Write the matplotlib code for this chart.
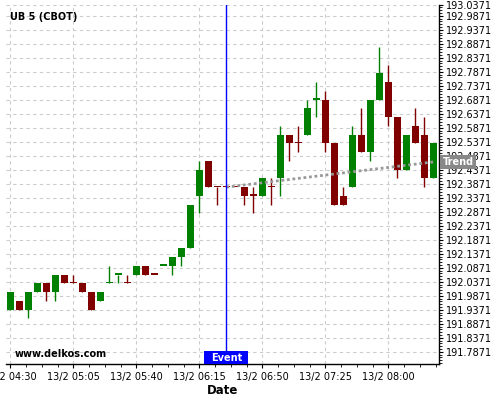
import matplotlib
matplotlib.use("Agg")
import matplotlib.pyplot as plt
import matplotlib.dates as mdates
from matplotlib.patches import Rectangle
from matplotlib.transforms import blended_transform_factory
import pandas as pd

# 5 minute candles, UB 5 (CBOT)
start = "2024-02-13 04:30"
opens = [191.9375, 191.96875, 191.9375, 192.0, 192.03125, 192.0, 192.0625, 192.03125,
         192.03125, 192.0, 191.96875, 192.03125, 192.0625, 192.03125, 192.0625, 192.09375,
         192.0625, 192.09375, 192.09375, 192.125, 192.15625, 192.34375, 192.46875, 192.375,
         192.375, 192.375, 192.375, 192.34375, 192.34375, 192.375, 192.40625, 192.5625,
         192.53125, 192.5625, 192.6875, 192.6875, 192.53125, 192.34375, 192.375, 192.5625,
         192.5, 192.6875, 192.75, 192.625, 192.4375, 192.59375, 192.5625, 192.40625]
highs = [192.0, 191.96875, 192.0, 192.03125, 192.03125, 192.0625, 192.0625, 192.0625,
         192.03125, 192.0, 192.0, 192.09375, 192.0625, 192.0625, 192.09375, 192.09375,
         192.0625, 192.09375, 192.125, 192.15625, 192.3125, 192.46875, 192.46875, 192.375,
         192.375, 192.375, 192.375, 192.375, 192.40625, 192.40625, 192.59375, 192.5625,
         192.59375, 192.6875, 192.75, 192.71875, 192.53125, 192.375, 192.59375, 192.65625,
         192.6875, 192.875, 192.8125, 192.625, 192.5625, 192.65625, 192.625, 192.53125]
lows = [191.9375, 191.9375, 191.90625, 192.0, 191.96875, 191.96875, 192.03125, 192.03125,
        192.0, 191.9375, 191.96875, 192.03125, 192.03125, 192.03125, 192.0625, 192.0625,
        192.0625, 192.09375, 192.0625, 192.09375, 192.15625, 192.28125, 192.375, 192.3125,
        192.375, 192.375, 192.3125, 192.28125, 192.34375, 192.3125, 192.34375, 192.46875,
        192.5, 192.5625, 192.625, 192.5, 192.3125, 192.3125, 192.375, 192.5,
        192.46875, 192.6875, 192.59375, 192.40625, 192.4375, 192.53125, 192.375, 192.40625]
closes = [192.0, 191.9375, 192.0, 192.03125, 192.0, 192.0625, 192.03125, 192.03125,
          192.0, 191.9375, 192.0, 192.03125, 192.0625, 192.03125, 192.09375, 192.0625,
          192.0625, 192.09375, 192.125, 192.15625, 192.3125, 192.4375, 192.375, 192.375,
          192.375, 192.375, 192.34375, 192.34375, 192.40625, 192.375, 192.5625, 192.53125,
          192.53125, 192.65625, 192.6875, 192.53125, 192.3125, 192.3125, 192.5625, 192.5,
          192.6875, 192.78125, 192.625, 192.4375, 192.5625, 192.53125, 192.40625, 192.53125]
doji_up = [11, 12, 17, 34]  # flat candles drawn green

event_time = "2024-02-13 06:30"
trend_times = ["2024-02-13 06:30", "2024-02-13 08:25"]
trend_values = [192.375, 192.465]

ytick_values = [191.7871 + 0.05 * i for i in range(25)]
top_label = "193.0371"

times = pd.date_range(start, periods=len(opens), freq="5min")
x = mdates.date2num(times)
step = x[1] - x[0]

green = "#008000"
red = "#800000"

fig = plt.figure(figsize=(5, 4), dpi=100)
ax = fig.add_axes([0.012, 0.09, 0.8666, 0.898])

colors = []
for i, (o, c) in enumerate(zip(opens, closes)):
    if c > o or (c == o and i in doji_up):
        colors.append(green)
    else:
        colors.append(red)

ax.vlines(x, lows, highs, colors=colors, linewidth=1, zorder=3)
bottoms = [min(o, c) for o, c in zip(opens, closes)]
heights = [max(abs(c - o), 0.005) for o, c in zip(opens, closes)]
ax.bar(x, heights, bottom=bottoms, width=step * 0.74, color=colors, zorder=4)

# trend
tx = mdates.date2num(pd.to_datetime(trend_times))
ax.plot(tx, trend_values, color="#999999", linestyle=(0, (1, 1)), linewidth=2, zorder=5)

# event
ex = mdates.date2num(pd.Timestamp(event_time))
ax.axvline(ex, color="#0000ff", linewidth=1, zorder=6)

ymin, ymax = 191.7432, 193.0264
ax.set_ylim(ymin, ymax)
ax.set_xlim(x[0] - step * 0.48, x[-1] + step * 0.67)

trans = blended_transform_factory(ax.transData, ax.transAxes)
box_w = step * 44 / 9
ax.add_patch(Rectangle((ex - box_w / 2, 0), box_w, 13 / 359.3, transform=trans,
                       facecolor="#0000ff", edgecolor="none", zorder=7, clip_on=False))
ax.text(ex, 6.5 / 359.3, "Event", transform=trans, ha="center", va="center",
        color="white", fontsize=7, fontweight="bold", zorder=8)

trans_y = blended_transform_factory(ax.transAxes, ax.transData)
ax.annotate("Trend", xy=(1.0, trend_values[-1]), xycoords=trans_y,
            xytext=(2.5, 0), textcoords="offset points", ha="left", va="center",
            color="white", fontsize=7, fontweight="bold", zorder=10,
            bbox=dict(boxstyle="square,pad=0.25", facecolor="#888888", edgecolor="none"),
            annotation_clip=False)

ax.text(0.009, 0.981, "UB 5 (CBOT)", transform=ax.transAxes, ha="left", va="top",
        fontsize=7, fontweight="bold")
ax.text(0.021, 0.02, "www.delkos.com", transform=ax.transAxes, ha="left",
        va="baseline", fontsize=7, fontweight="bold", zorder=9)

# x axis
major = pd.date_range(start, times[-1], freq="35min")
minor = pd.date_range(start, times[-1] + pd.Timedelta("5min"), freq="525s")
ax.set_xticks(mdates.date2num(major))
ax.set_xticks(mdates.date2num(minor), minor=True)
ax.set_xticklabels([f"{d.day}/{d.month} {d:%H:%M}" for d in major], fontsize=7)
ax.set_xlabel("Date", fontsize=8.5, fontweight="bold", labelpad=1)

# y axis
ax.yaxis.tick_right()
ax.set_yticks(ytick_values + [ymax])
ax.set_yticklabels([f"{v:.4f}" for v in ytick_values] + [top_label], fontsize=7)
ax.set_yticks([191.7471 + 0.01 * i for i in range(128)], minor=True)
ax.tick_params(axis="both", which="major", length=3, width=0.8, pad=1.5)
ax.tick_params(axis="both", which="minor", length=2, width=0.6)
ax.tick_params(axis="x", which="major", pad=3)

ax.grid(True, which="major", color="#cccccc", linestyle=(0, (3, 3)), linewidth=0.8)
ax.set_axisbelow(True)
for side in ("left", "top"):
    ax.spines[side].set_visible(False)
ax.spines["right"].set_linewidth(1)
ax.spines["bottom"].set_linewidth(1)

fig.savefig("out.png", dpi=100)
